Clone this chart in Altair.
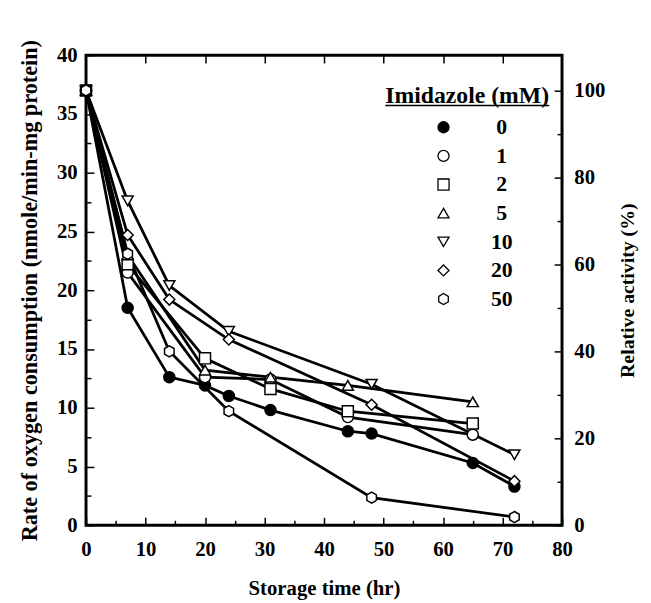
import altair as alt
import pandas as pd

CONC = ["0", "1", "2", "5", "10", "20", "50"]

# storage times (hr)
T_0 = [0, 7, 14, 20, 24, 31, 44, 48, 65, 72]
T_A = [0, 7, 20, 31, 44, 65]
T_B = [0, 7, 14, 24, 48, 72]

# rates (nmole/min-mg protein)
R_0 = [37, 18.5, 12.6, 11.9, 11.0, 9.8, 8.0, 7.8, 5.3, 3.3]
R_1 = [37, 21.5, 12.6, 12.4, 9.2, 7.7]
R_2 = [37, 22.2, 14.2, 11.6, 9.7, 8.65]
R_5 = [37, 23.0, 13.2, 12.6, 11.9, 10.5]
R_10 = [37, 27.6, 20.4, 16.5, 12.0, 6.0]
R_20 = [37, 24.7, 19.2, 15.8, 10.25, 3.75]
R_50 = [37, 23.1, 14.8, 9.7, 2.35, 0.7]

X_MAJOR = [0, 10, 20, 30, 40, 50, 60, 70, 80]
X_MINOR = [5, 15, 25, 35, 45, 55, 65, 75]
Y_MAJOR = [0, 5, 10, 15, 20, 25, 30, 35, 40]
Y_MINOR = [2.5, 7.5, 12.5, 17.5, 22.5, 27.5, 32.5, 37.5]
P_MAJOR = [0, 20, 40, 60, 80, 100]
P_MINOR = [10, 30, 50, 70, 90]

HEX = "M0,-1L0.866,-0.5L0.866,0.5L0,1L-0.866,0.5L-0.866,-0.5Z"
SHAPES = ["circle", "circle", "square", "triangle-up", "triangle-down", "diamond", HEX]
SIZES = [125, 125, 110, 190, 190, 200, 160]
FILLS = ["black", "white", "white", "white", "white", "white", "white"]
STROKES = ["black"] * 7

series = [(CONC[0], T_0, R_0), (CONC[1], T_A, R_1), (CONC[2], T_A, R_2),
          (CONC[3], T_A, R_5), (CONC[4], T_B, R_10), (CONC[5], T_B, R_20),
          (CONC[6], T_B, R_50)]
rows = []
for c, ts, rs in series:
    for t, r in zip(ts, rs):
        rows.append({"conc": c, "time": t, "rate": r, "pct": r * 100 / 37})
df = pd.DataFrame(rows)

W, H = 482, 476
FONT = "Liberation Serif"

xs = alt.Scale(domain=[0, 80], nice=False, zero=False)
ys = alt.Scale(domain=[0, 40], nice=False)
ps = alt.Scale(domain=[0, 4000 / 37], nice=False)

base = alt.Chart(df)

lines = base.mark_line(color="black", strokeWidth=2.8).encode(
    x=alt.X("time:Q", scale=xs,
            axis=alt.Axis(title="Storage time (hr)", values=X_MAJOR, ticks=False,
                          domain=False, labelPadding=14, titlePadding=18, grid=False,
                          titleFontSize=21, labelFlush=False, labelOverlap=False)),
    y=alt.Y("rate:Q", scale=ys,
            axis=alt.Axis(title="Rate of oxygen consumption (nmole/min-mg protein)",
                          values=Y_MAJOR, ticks=False, domain=False, labelPadding=9,
                          titlePadding=15, grid=False, titleFontSize=22.5,
                          labelFlush=False, labelOverlap=False)),
    detail="conc:N",
    order="time:Q",
)

leg = alt.Legend(title="Imidazole (mM)", orient="none", legendX=303, legendY=29,
                 titlePadding=9, labelAlign="center", labelOffset=48,
                 symbolOffset=48, symbolStrokeWidth=1.3,
                 rowPadding=7, padding=0)

points = base.mark_point(filled=True, strokeWidth=1.5, opacity=1).encode(
    x=alt.X("time:Q", scale=xs),
    y=alt.Y("rate:Q", scale=ys),
    shape=alt.Shape("conc:N", scale=alt.Scale(domain=CONC, range=SHAPES), legend=leg),
    fill=alt.Fill("conc:N", scale=alt.Scale(domain=CONC, range=FILLS), legend=leg),
    stroke=alt.Stroke("conc:N", scale=alt.Scale(domain=CONC, range=STROKES), legend=leg),
    size=alt.Size("conc:N", scale=alt.Scale(domain=CONC, range=SIZES), legend=leg),
)

core = alt.layer(lines, points)


def tick_axis(vals, size, orient):
    return alt.Axis(orient=orient, values=vals, labels=False, domain=False, title=None,
                    tickSize=size, offset=-size, ticks=True, grid=False,
                    tickColor="black", tickWidth=1.5)


t1 = base.mark_point(opacity=0).encode(
    x=alt.X("time:Q", scale=xs, axis=tick_axis(X_MAJOR, 8, "bottom")),
    y=alt.Y("rate:Q", scale=ys, axis=tick_axis(Y_MAJOR, 8, "left")),
)
t2 = base.mark_point(opacity=0).encode(
    x=alt.X("time:Q", scale=xs, axis=tick_axis(X_MINOR, 5, "bottom")),
    y=alt.Y("rate:Q", scale=ys, axis=tick_axis(Y_MINOR, 5, "left")),
)
t3 = base.mark_point(opacity=0).encode(
    x=alt.X("time:Q", scale=xs, axis=tick_axis(X_MAJOR[1:-1], 8, "top")),
    y=alt.Y("pct:Q", scale=ps, axis=tick_axis(P_MAJOR, 8, "right")),
)
t4 = base.mark_point(opacity=0).encode(
    x=alt.X("time:Q", scale=xs, axis=None),
    y=alt.Y("pct:Q", scale=ps, axis=tick_axis(P_MINOR, 5, "right")),
)
right = base.mark_point(opacity=0).encode(
    x=alt.X("time:Q", scale=xs, axis=None),
    y=alt.Y("pct:Q", scale=ps,
            axis=alt.Axis(orient="right", title="Relative activity (%)", values=P_MAJOR,
                          ticks=False, domain=False, labelPadding=12, titlePadding=33,
                          titleAngle=270, grid=False, labelFlush=False,
                          labelOverlap=False)),
)

underline = alt.Chart(pd.DataFrame({"u": [0]})).mark_rule(
    color="black", strokeWidth=1.5).encode(
    x=alt.value(303), x2=alt.value(469), y=alt.value(51))

chart = alt.layer(core, t1, t2, t3, t4, right, underline).resolve_scale(
    x="independent", y="independent", shape="shared", fill="shared",
    stroke="shared", size="shared"
).properties(
    width=W, height=H,
    autosize=alt.AutoSizeParams(type="none"),
    padding={"left": 79, "top": 44, "right": 82, "bottom": 75},
).configure_view(
    stroke="black", strokeWidth=3
).configure_axis(
    labelFont=FONT, labelFontSize=21, labelFontWeight="bold", labelColor="black",
    titleFont=FONT, titleFontSize=20, titleFontWeight="bold", titleColor="black",
).configure_legend(
    titleFont=FONT, titleFontSize=24, titleFontWeight="bold", titleColor="black",
    labelFont=FONT, labelFontSize=22, labelFontWeight="bold", labelColor="black",
    titleLimit=400,
)

chart.save("out.html", embed_options={"renderer": "svg", "actions": False})
